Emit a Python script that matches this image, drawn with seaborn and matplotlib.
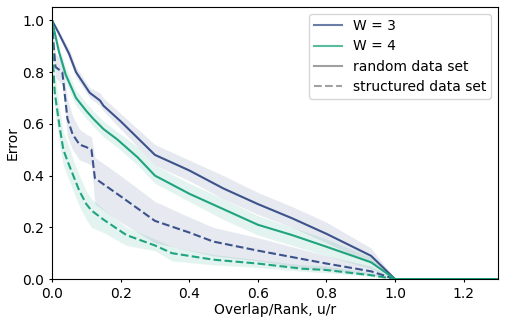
import pandas as pd
import matplotlib
matplotlib.use("Agg")
import matplotlib.pyplot as plt
from matplotlib.lines import Line2D
import seaborn as sns

# W = 3, random data set
x_w3_rand = [0, 0.02, 0.05, 0.07, 0.09, 0.11, 0.14, 0.15, 0.2, 0.3, 0.4, 0.5, 0.6, 0.7, 0.8, 0.93, 1.0, 1.3]
mid_w3_rand = [1.0, 0.95, 0.87, 0.80, 0.76, 0.72, 0.69, 0.67, 0.61, 0.48, 0.42, 0.35, 0.29, 0.235, 0.175, 0.09, 0.0, 0.0]
lo_w3_rand = [1.0, 0.94, 0.85, 0.78, 0.74, 0.70, 0.67, 0.65, 0.58, 0.44, 0.38, 0.31, 0.25, 0.20, 0.14, 0.06, 0.0, 0.0]
hi_w3_rand = [1.0, 0.96, 0.89, 0.82, 0.78, 0.74, 0.72, 0.70, 0.64, 0.52, 0.46, 0.40, 0.335, 0.28, 0.22, 0.12, 0.0, 0.0]

# W = 4, random data set
x_w4_rand = [0, 0.02, 0.04, 0.07, 0.1, 0.12, 0.15, 0.19, 0.25, 0.3, 0.4, 0.5, 0.6, 0.7, 0.8, 0.93, 1.0, 1.3]
mid_w4_rand = [1.0, 0.88, 0.79, 0.70, 0.65, 0.62, 0.58, 0.54, 0.47, 0.40, 0.33, 0.27, 0.21, 0.17, 0.125, 0.065, 0.0, 0.0]
lo_w4_rand = [1.0, 0.86, 0.76, 0.67, 0.62, 0.59, 0.55, 0.51, 0.44, 0.37, 0.30, 0.23, 0.17, 0.13, 0.09, 0.04, 0.0, 0.0]
hi_w4_rand = [1.0, 0.90, 0.82, 0.73, 0.68, 0.65, 0.61, 0.57, 0.51, 0.44, 0.37, 0.31, 0.245, 0.20, 0.155, 0.085, 0.0, 0.0]

# W = 3, structured data set
x_w3_struct = [0, 0.005, 0.01, 0.03, 0.045, 0.06, 0.08, 0.1, 0.115, 0.125, 0.2, 0.3, 0.4, 0.47, 0.6, 0.7, 0.8, 0.93, 1.0, 1.3]
mid_w3_struct = [1.0, 0.90, 0.82, 0.80, 0.62, 0.56, 0.52, 0.51, 0.50, 0.39, 0.32, 0.225, 0.18, 0.145, 0.11, 0.085, 0.06, 0.03, 0.0, 0.0]
lo_w3_struct = [1.0, 0.85, 0.78, 0.75, 0.55, 0.50, 0.46, 0.45, 0.44, 0.29, 0.22, 0.14, 0.11, 0.09, 0.07, 0.05, 0.035, 0.015, 0.0, 0.0]
hi_w3_struct = [1.0, 0.95, 0.87, 0.85, 0.70, 0.63, 0.58, 0.56, 0.55, 0.47, 0.40, 0.30, 0.24, 0.20, 0.16, 0.125, 0.09, 0.05, 0.0, 0.0]

# W = 4, structured data set
x_w4_struct = [0, 0.003, 0.008, 0.022, 0.033, 0.047, 0.065, 0.08, 0.1, 0.115, 0.15, 0.217, 0.3, 0.35, 0.47, 0.6, 0.73, 0.8, 0.93, 1.0, 1.3]
mid_w4_struct = [1.0, 0.84, 0.72, 0.59, 0.50, 0.45, 0.39, 0.34, 0.29, 0.265, 0.23, 0.17, 0.13, 0.10, 0.075, 0.06, 0.04, 0.035, 0.015, 0.0, 0.0]
lo_w4_struct = [1.0, 0.78, 0.65, 0.52, 0.44, 0.39, 0.33, 0.28, 0.23, 0.20, 0.18, 0.13, 0.11, 0.07, 0.055, 0.045, 0.03, 0.025, 0.01, 0.0, 0.0]
hi_w4_struct = [1.0, 0.90, 0.80, 0.66, 0.57, 0.52, 0.45, 0.40, 0.34, 0.31, 0.27, 0.20, 0.155, 0.125, 0.095, 0.075, 0.055, 0.05, 0.025, 0.0, 0.0]

series = [
    ("W = 3", "random", x_w3_rand, lo_w3_rand, mid_w3_rand, hi_w3_rand),
    ("W = 4", "random", x_w4_rand, lo_w4_rand, mid_w4_rand, hi_w4_rand),
    ("W = 3", "structured", x_w3_struct, lo_w3_struct, mid_w3_struct, hi_w3_struct),
    ("W = 4", "structured", x_w4_struct, lo_w4_struct, mid_w4_struct, hi_w4_struct),
]

# long form: three samples per x (min, median, max) so the band spans min..max
rows = []
for w, kind, xs, lo, mid, hi in series:
    for i, x in enumerate(xs):
        for v in (lo[i], mid[i], hi[i]):
            rows.append({"x": x, "error": v, "W": w, "data": kind})
df = pd.DataFrame(rows)

colors = {"W = 3": "#3b528b", "W = 4": "#1fa47f"}

fig = plt.figure(figsize=(5.05, 3.23), dpi=100)
ax = fig.add_axes([0.103, 0.136, 0.883, 0.841])

sns.lineplot(data=df, x="x", y="error", hue="W", style="data",
             hue_order=["W = 3", "W = 4"], style_order=["random", "structured"],
             palette=colors, estimator="median", errorbar=("pi", 100),
             err_kws={"alpha": 0.12, "linewidth": 0},
             dashes={"random": "", "structured": (3.7, 1.6)},
             linewidth=1.5, ax=ax, legend=False)

ax.set_xlim(0, 1.3)
ax.set_ylim(0, 1.05)
ax.set_xlabel("Overlap/Rank, u/r", labelpad=2)
ax.set_ylabel("Error", labelpad=2)
ax.tick_params(length=2, pad=3.5)

handles = [
    Line2D([], [], color=colors["W = 3"], alpha=0.75, lw=1.5, label="W = 3"),
    Line2D([], [], color=colors["W = 4"], alpha=0.75, lw=1.5, label="W = 4"),
    Line2D([], [], color="gray", alpha=0.75, lw=1.5, label="random data set"),
    Line2D([], [], color="gray", alpha=0.75, lw=1.5, ls="--", label="structured data set"),
]
ax.legend(handles=handles, loc="upper right", borderpad=0.35, labelspacing=0.45)

fig.savefig("out.png", dpi=100)
